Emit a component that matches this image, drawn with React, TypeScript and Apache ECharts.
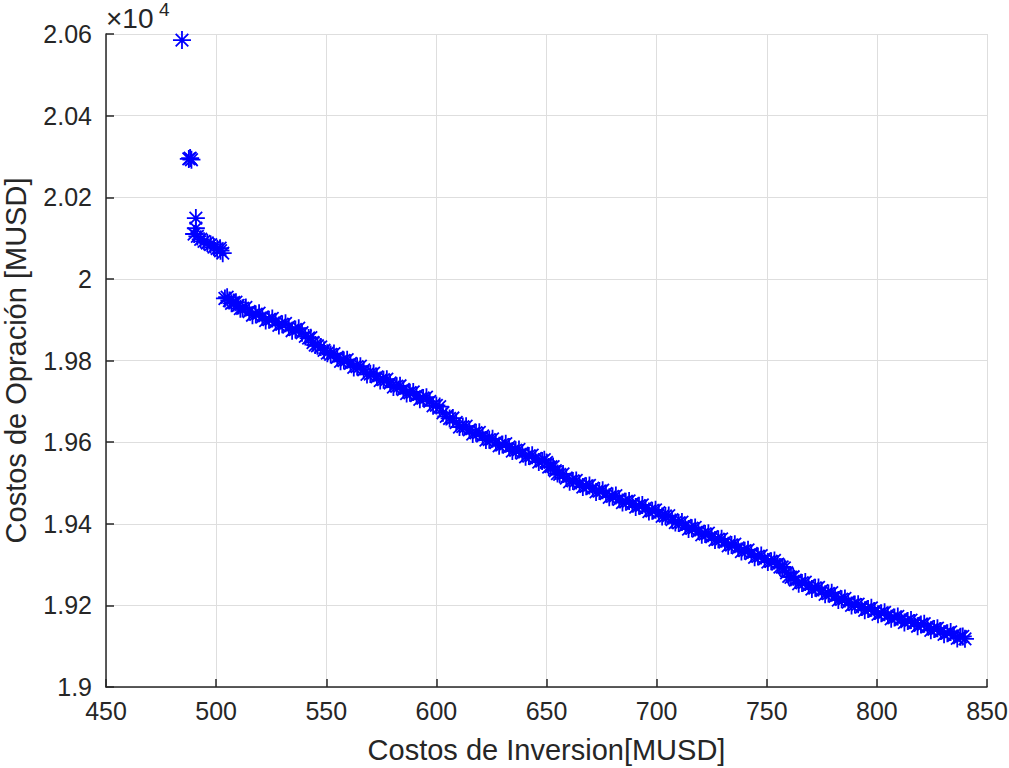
import React, { useEffect, useRef } from "react";
import * as echarts from "echarts";

const xTitle = "Costos de Inversion[MUSD]";
const yTitle = "Costos de Opración [MUSD]";
const exponentBase = "×10";
const exponentPower = "4";

// Costos de Inversion (MUSD)
const inversion = [
  484.5, 487.6, 488.2, 488.8, 490.8, 490.8,
  490.0, 491.5, 493.0, 494.5, 496.0, 497.5, 499.0, 500.5, 501.8, 502.0, 503.0,
  504, 506, 508, 510, 512, 515, 518, 521, 524, 527, 530, 533, 536, 539, 542, 544, 546, 549,
  552, 555, 558, 561, 564, 567, 570, 573, 576, 579, 582, 585, 588, 591, 594, 597, 600, 603,
  606, 609, 612, 615, 618, 621, 624, 627, 630, 633, 636, 639, 642, 645, 648, 650, 652, 654,
  656, 659, 662, 665, 668, 671, 674, 677, 680, 683, 686, 689, 692, 695, 698, 701, 704, 707,
  710, 713, 716, 719, 722, 725, 728, 731, 734, 737, 740, 743, 746, 749, 752, 755, 757, 759,
  761, 763, 766, 769, 772, 775, 778, 781, 784, 787, 790, 793, 796, 799, 802, 805, 808, 811,
  814, 817, 820, 823, 826, 829, 832, 835, 838, 840,
  505, 507, 509, 511, 513.5, 516.5, 519.5, 522.5, 525.5, 528.5, 531.5, 534.5, 537.5, 540.5,
  543, 545, 547.5, 550.5, 553.5, 556.5, 559.5, 562.5, 565.5, 568.5, 571.5, 574.5, 577.5,
  580.5, 583.5, 586.5, 589.5, 592.5, 595.5, 598.5, 601.5, 604.5, 607.5, 610.5, 613.5, 616.5,
  619.5, 622.5, 625.5, 628.5, 631.5, 634.5, 637.5, 640.5, 643.5, 646.5, 649, 651, 653, 655,
  657.5, 660.5, 663.5, 666.5, 669.5, 672.5, 675.5, 678.5, 681.5, 684.5, 687.5, 690.5, 693.5,
  696.5, 699.5, 702.5, 705.5, 708.5, 711.5, 714.5, 717.5, 720.5, 723.5, 726.5, 729.5, 732.5,
  735.5, 738.5, 741.5, 744.5, 747.5, 750.5, 753.5, 756, 758, 760, 762, 764.5, 767.5, 770.5,
  773.5, 776.5, 779.5, 782.5, 785.5, 788.5, 791.5, 794.5, 797.5, 800.5, 803.5, 806.5, 809.5,
  812.5, 815.5, 818.5, 821.5, 824.5, 827.5, 830.5, 833.5, 836.5, 839,
];

// Costos de Operación (MUSD)
const operacion = [
  20585, 20294, 20296, 20292, 20149, 20124,
  20110, 20104, 20097, 20092, 20088, 20084, 20078, 20074, 20075, 20069, 20063,
  19952, 19947, 19942, 19935, 19928, 19920, 19913, 19907, 19900, 19895, 19889, 19882, 19876, 19868, 19855, 19844, 19836, 19825,
  19815, 19808, 19800, 19793, 19785, 19777, 19767, 19760, 19753, 19745, 19737, 19729, 19721, 19714, 19708, 19700, 19690, 19672,
  19658, 19648, 19638, 19630, 19623, 19615, 19606, 19599, 19594, 19588, 19580, 19573, 19566, 19560, 19554, 19550, 19540, 19530,
  19521, 19512, 19505, 19498, 19492, 19487, 19480, 19474, 19467, 19460, 19454, 19449, 19444, 19438, 19432, 19427, 19419, 19410,
  19402, 19396, 19389, 19382, 19375, 19368, 19362, 19355, 19348, 19341, 19334, 19327, 19320, 19314, 19308, 19301, 19294, 19280,
  19269, 19262, 19255, 19249, 19243, 19236, 19229, 19222, 19215, 19208, 19202, 19196, 19191, 19186, 19181, 19176, 19170, 19166,
  19162, 19157, 19153, 19148, 19142, 19137, 19132, 19127, 19123, 19118,
  19955, 19940, 19943, 19927, 19930, 19911, 19916, 19898, 19903, 19886, 19891, 19873, 19879, 19859,
  19856, 19838, 19833, 19818, 19817, 19798, 19802, 19783, 19786, 19766, 19769, 19751, 19754,
  19735, 19738, 19719, 19723, 19705, 19710, 19689, 19687, 19663, 19659, 19637, 19639, 19620,
  19624, 19605, 19608, 19591, 19596, 19578, 19582, 19564, 19568, 19551, 19557, 19539, 19540, 19523,
  19522, 19503, 19506, 19490, 19494, 19478, 19482, 19465, 19469, 19452, 19456, 19441, 19446,
  19430, 19434, 19418, 19420, 19403, 19404, 19387, 19391, 19373, 19377, 19360, 19363, 19346,
  19350, 19332, 19336, 19318, 19322, 19306, 19310, 19294, 19292, 19271, 19270, 19253, 19257, 19240,
  19244, 19227, 19231, 19213, 19217, 19200, 19203, 19188, 19194, 19178, 19183, 19167, 19173,
  19158, 19164, 19149, 19155, 19139, 19144, 19129, 19135, 19119, 19124,
];

const xMin = 450;
const xMax = 850;
const xStep = 50;
const yMin = 19000;
const yMax = 20600;
const yStep = 200;

const starPath = "path://M0,-10L0,10M-10,0L10,0M-7,-7L7,7M-7,7L7,-7";

export default function App() {
  const ref = useRef<HTMLDivElement>(null);
  useEffect(() => {
    if (!ref.current) return;
    const chart = echarts.init(ref.current, undefined, { renderer: "svg" });
    const font = "'Liberation Sans', Arial, Helvetica, sans-serif";
    const tickColor = "#262626";
    chart.setOption({
      animation: false,
      backgroundColor: "#ffffff",
      grid: {
        left: 106,
        right: 22,
        top: 34,
        bottom: 81,
        containLabel: false,
        outerBoundsMode: "none",
      },
      xAxis: {
        type: "value",
        min: xMin,
        max: xMax,
        interval: xStep,
        name: xTitle,
        nameLocation: "middle",
        nameGap: 48,
        nameTextStyle: { fontFamily: font, fontSize: 29, color: tickColor },
        axisLine: { show: true, onZero: false, lineStyle: { color: tickColor, width: 1.5 } },
        axisTick: { show: true, inside: true, length: 8, lineStyle: { color: tickColor, width: 1.5 } },
        axisLabel: { fontFamily: font, fontSize: 25, color: tickColor, margin: 11 },
        splitLine: { show: true, lineStyle: { color: "#dedede", width: 1 } },
      },
      yAxis: {
        type: "value",
        min: yMin,
        max: yMax,
        interval: yStep,
        name: yTitle,
        nameLocation: "middle",
        nameGap: 76,
        nameTextStyle: { fontFamily: font, fontSize: 29, color: tickColor },
        axisLine: { show: true, onZero: false, lineStyle: { color: tickColor, width: 1.5 } },
        axisTick: { show: true, inside: true, length: 8, lineStyle: { color: tickColor, width: 1.5 } },
        axisLabel: {
          fontFamily: font,
          fontSize: 25,
          color: tickColor,
          margin: 14,
          formatter: (v: number) => String(parseFloat((v / 10000).toFixed(2))),
        },
        splitLine: { show: true, lineStyle: { color: "#dedede", width: 1 } },
      },
      graphic: [
        {
          type: "text",
          left: 106,
          top: 4,
          style: { text: exponentBase, fontFamily: font, fontSize: 28, fill: tickColor },
        },
        {
          type: "text",
          left: 159,
          top: 0,
          style: { text: exponentPower, fontFamily: font, fontSize: 19, fill: tickColor },
        },
      ],
      series: [
        {
          type: "scatter",
          data: inversion.map((x, i) => [x, operacion[i]]),
          symbol: starPath,
          symbolSize: 18,
          itemStyle: { color: "#0000ff", borderColor: "#0000ff", borderWidth: 1.8, opacity: 1 },
        },
      ],
    });
    return () => chart.dispose();
  }, []);
  return (
    <div
      ref={ref}
      style={{ position: "fixed", left: 0, top: 0, width: 1009, height: 768, background: "#fff" }}
    />
  );
}
